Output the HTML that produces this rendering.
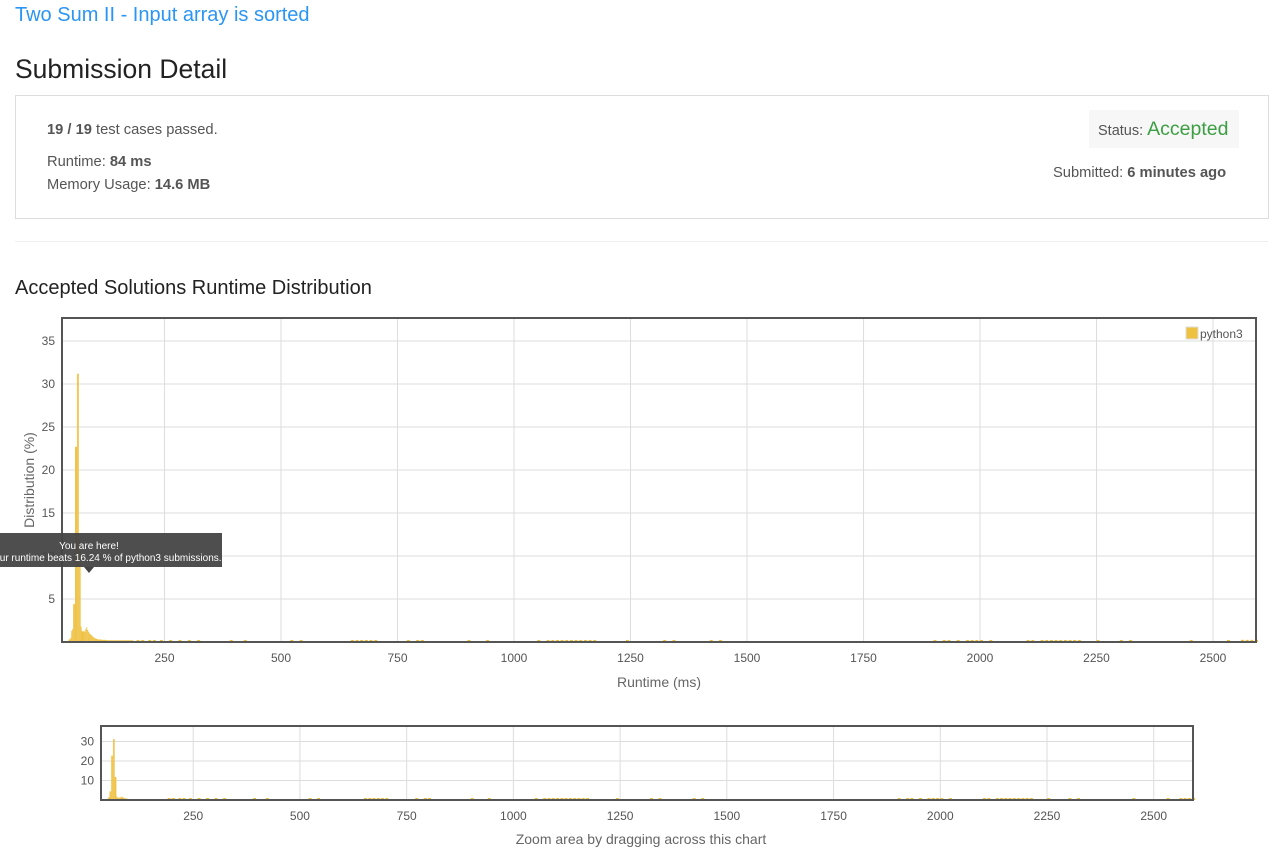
<!DOCTYPE html>
<html><head><meta charset="utf-8">
<style>
body{margin:0;width:1276px;height:853px;background:#fff;font-family:"Liberation Sans","DejaVu Sans",sans-serif;color:#333;position:relative;overflow:hidden}
.abs{position:absolute;white-space:nowrap}
</style></head><body>
<div class="abs" style="left:15px;top:4px;font-size:20px;color:#2a95f5">Two Sum II - Input array is sorted</div>
<div class="abs" style="left:15px;top:54px;font-size:26.5px;color:#222">Submission Detail</div>
<div class="abs" style="left:15px;top:95px;width:1252px;height:122px;border:1px solid #ddd"></div>
<div class="abs" style="left:47px;top:122px;font-size:14.7px;color:#555"><b>19 / 19</b> test cases passed.</div>
<div class="abs" style="left:47px;top:154px;font-size:14.7px;color:#555">Runtime: <b>84 ms</b></div>
<div class="abs" style="left:47px;top:177px;font-size:14.7px;color:#555">Memory Usage: <b>14.6 MB</b></div>
<div class="abs" style="left:1089px;top:110px;width:150px;height:38px;background:#f7f7f7"></div>
<div class="abs" style="left:1098px;top:118px;font-size:14.5px;color:#555">Status: <span style="color:#3c9e43;font-size:19.5px;font-weight:500">Accepted</span></div>
<div class="abs" style="left:1053px;top:165px;font-size:14.7px;color:#555">Submitted: <b>6 minutes ago</b></div>
<div class="abs" style="left:15px;top:241px;width:1253px;height:1px;background:#eee"></div>
<div class="abs" style="left:15px;top:277px;font-size:20px;color:#222">Accepted Solutions Runtime Distribution</div>
<svg class="abs" style="left:0;top:0" width="1276" height="853">
<g id="g"></g>
</svg>
<script>
const binStarts=[44,46,48,50,52,54,56,58,60,62,64,66,68,70,72,74,76,78,80,82,84,86,88,90,92,94,96,98,100,102,104,106,108,112,116,120,124,128,133,138,143,148,153,158,163,168,173,178];
const binValues=[0.3,0.3,0.5,1.3,1.5,4.4,4.4,22.7,22.7,31.2,31.2,11.8,11.8,1.8,1.3,1.2,1.3,1.2,1.5,1.7,1.4,1.2,1.0,0.9,0.8,0.7,0.6,0.5,0.45,0.4,0.35,0.3,0.3,0.28,0.25,0.25,0.22,0.2,0.2,0.2,0.2,0.2,0.2,0.2,0.2,0.2,0.2,0.2];
const sparseRuntimes=[190,200,215,225,240,260,280,300,320,390,420,520,540,650,660,670,680,690,700,770,790,800,900,940,1050,1070,1080,1090,1100,1110,1120,1130,1140,1150,1160,1170,1240,1320,1340,1420,1440,1900,1920,1930,1950,1970,1980,1990,2000,2020,2100,2110,2130,2140,2150,2160,2170,2180,2190,2200,2210,2250,2300,2320,2450,2530,2560,2570,2580,2590];
const sparseValues=[0.2,0.2,0.2,0.2,0.2,0.2,0.2,0.2,0.2,0.2,0.2,0.2,0.2,0.2,0.2,0.2,0.2,0.2,0.2,0.2,0.2,0.2,0.2,0.2,0.2,0.2,0.2,0.2,0.2,0.2,0.2,0.2,0.2,0.2,0.2,0.2,0.2,0.2,0.2,0.2,0.2,0.2,0.2,0.2,0.2,0.2,0.2,0.2,0.2,0.2,0.2,0.2,0.2,0.2,0.2,0.2,0.2,0.2,0.2,0.2,0.2,0.2,0.2,0.2,0.2,0.2,0.25,0.25,0.25,0.25];
const xTicks=[250,500,750,1000,1250,1500,1750,2000,2250,2500];
const yTicksMain=[5,10,15,20,25,30,35];
const yTicksZoom=[10,20,30];
const NS='http://www.w3.org/2000/svg';
const g=document.getElementById('g');
function el(t,a,txt){const e=document.createElementNS(NS,t);for(const k in a)e.setAttribute(k,a[k]);if(txt!==undefined)e.textContent=txt;g.appendChild(e);return e;}
function drawChart(L,T,R,B,x0ms,xScale,yScale,yTicks,prefix,big){
  const x=v=>L+(v-x0ms)*xScale, y=v=>B-v*yScale;
  const bg=el('rect',{x:L,y:T,width:R-L,height:B-T,fill:'#fff'});
  
  
  xTicks.forEach(t=>{
    const l=el('line',{x1:x(t),x2:x(t),y1:T,y2:B,stroke:'#ddd','stroke-width':1});
    
    
    const tx=el('text',{x:x(t),y:B+20,'text-anchor':'middle','font-size':12,fill:'#555'},t);
    
    
  });
  yTicks.forEach(t=>{
    const l=el('line',{x1:L,x2:R,y1:y(t),y2:y(t),stroke:'#ddd','stroke-width':1});
    
    
    const tx=el('text',{x:L-7,y:y(t)+4,'text-anchor':'end','font-size':12,fill:'#555'},t);
    
    
  });
  binStarts.forEach((s,i)=>{
    const e=(i+1<binStarts.length)?binStarts[i+1]:s+5;
    const r=el('rect',{x:x(s),y:y(binValues[i]),width:Math.max(x(e)-x(s),0.8),height:binValues[i]*yScale,fill:'#efc141'});
    
    
  });
  sparseRuntimes.forEach((s,i)=>{
    const h=Math.max(sparseValues[i]*yScale,2);
    const r=el('rect',{x:x(s),y:B-h,width:3,height:h,fill:'#efc141'});
    
    
  });
  const fr=el('rect',{x:L,y:T,width:R-L,height:B-T,fill:'none',stroke:'#555','stroke-width':2});
  
  
}
drawChart(62,318,1256,642,30,0.466,8.6,yTicksMain,'main',true);
drawChart(101,726,1193,800,34,0.4269,1.95,yTicksZoom,'zoom',false);
let t=el('text',{x:659,y:687,'text-anchor':'middle','font-size':14,fill:'#666'},'Runtime (ms)');


t=el('text',{x:0,y:0,'text-anchor':'middle','font-size':14,fill:'#666',transform:'translate(34,480) rotate(-90)'},'Distribution (%)');


t=el('text',{x:641,y:844,'text-anchor':'middle','font-size':14,fill:'#666'},'Zoom area by dragging across this chart');


let r=el('rect',{x:1186,y:327,width:12,height:12,fill:'#efc141',stroke:'#ddd'});


t=el('text',{x:1200,y:338,'font-size':12,fill:'#555'},'python3');


r=el('rect',{x:0,y:533,width:222,height:34,fill:'#444',opacity:0.95});


r=el('path',{d:'M84 567 L94 567 L89 573 Z',fill:'#444'});


t=el('text',{x:89,y:549,'text-anchor':'middle','font-size':10,fill:'#fff'},'You are here!');


t=el('text',{x:105,y:561,'text-anchor':'middle','font-size':10,fill:'#fff'},'Your runtime beats 16.24 % of python3 submissions.');


</script>
</body></html>
